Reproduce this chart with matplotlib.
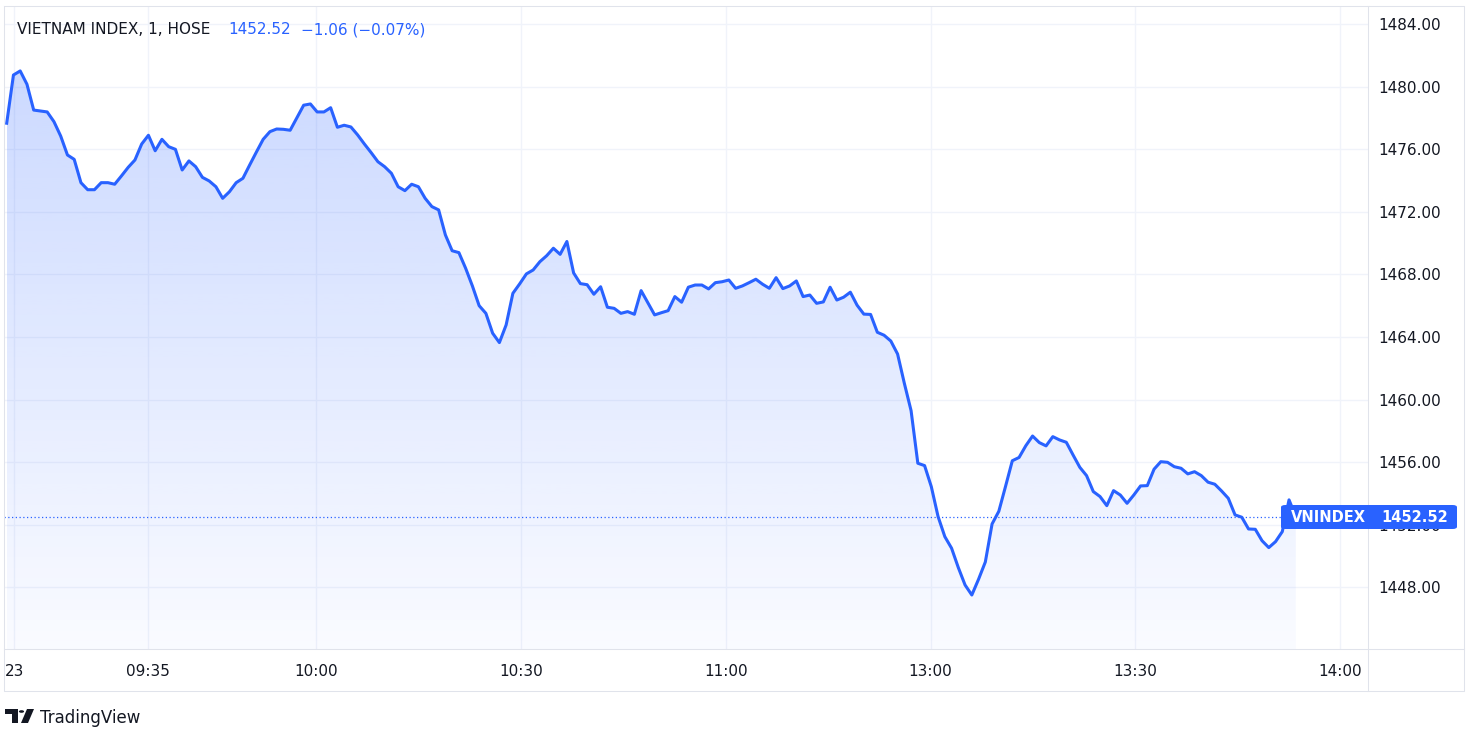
import numpy as np
import matplotlib
matplotlib.use("Agg")
import matplotlib.pyplot as plt
from matplotlib.patches import Rectangle, FancyBboxPatch, Polygon, Circle
from matplotlib.lines import Line2D

# ---------------- data ----------------
title_main = "VIETNAM INDEX, 1, HOSE"
last_price = 1452.52
change_text = "\u22121.06 (\u22120.07%)"
symbol = "VNINDEX"

# 1-minute closes (bar order)
values = [
    1477.66, 1480.74, 1481.00, 1480.15, 1478.50, 1478.44, 1478.38, 1477.76, 1476.84, 1475.63,
    1475.35, 1473.86, 1473.41, 1473.41, 1473.86, 1473.86, 1473.76, 1474.29, 1474.84, 1475.31,
    1476.33, 1476.89, 1475.90, 1476.63, 1476.16, 1475.99, 1474.67, 1475.25, 1474.88, 1474.20,
    1473.97, 1473.60, 1472.86, 1473.28, 1473.86, 1474.14, 1474.99, 1475.82, 1476.63, 1477.12,
    1477.29, 1477.27, 1477.21, 1478.01, 1478.81, 1478.89, 1478.38, 1478.38, 1478.65, 1477.40,
    1477.53, 1477.42, 1476.91, 1476.33, 1475.78, 1475.20, 1474.88, 1474.46, 1473.60, 1473.35,
    1473.76, 1473.60, 1472.86, 1472.33, 1472.12, 1470.52, 1469.51, 1469.39, 1468.39, 1467.26,
    1466.00, 1465.51, 1464.24, 1463.64, 1464.77, 1466.79, 1467.39, 1468.03, 1468.28, 1468.81,
    1469.19, 1469.67, 1469.28, 1470.10, 1468.09, 1467.41, 1467.34, 1466.73, 1467.21, 1465.90,
    1465.83, 1465.51, 1465.62, 1465.45, 1466.96, 1466.19, 1465.41, 1465.55, 1465.68, 1466.58,
    1466.22, 1467.18, 1467.32, 1467.32, 1467.07, 1467.47, 1467.53, 1467.64, 1467.11, 1467.26,
    1467.47, 1467.69, 1467.37, 1467.11, 1467.79, 1467.09, 1467.26, 1467.58, 1466.58, 1466.68,
    1466.15, 1466.24, 1467.18, 1466.36, 1466.54, 1466.86, 1466.03, 1465.46, 1465.44, 1464.30,
    1464.11, 1463.74, 1462.91, 1461.04, 1459.29, 1455.93, 1455.78, 1454.43, 1452.52, 1451.24,
    1450.50, 1449.26, 1448.15, 1447.51, 1448.52, 1449.62, 1452.05, 1452.86, 1454.46, 1456.09,
    1456.30, 1457.05, 1457.67, 1457.25, 1457.04, 1457.63, 1457.42, 1457.27, 1456.46, 1455.67,
    1455.14, 1454.12, 1453.80, 1453.22, 1454.18, 1453.90, 1453.37, 1453.90, 1454.48, 1454.50,
    1455.55, 1456.03, 1455.99, 1455.71, 1455.61, 1455.25, 1455.39, 1455.14, 1454.72, 1454.59,
    1454.16, 1453.69, 1452.63, 1452.48, 1451.73, 1451.71, 1450.98, 1450.54, 1450.92, 1451.56,
    1453.59, 1452.52,
]

time_labels = ["23", "09:35", "10:00", "10:30", "11:00", "13:00", "13:30", "14:00"]
time_label_bars = [1.1, 20.9, 45.8, 76.2, 106.6, 136.9, 167.2, 197.5]

price_ticks = [1448, 1452, 1456, 1460, 1464, 1468, 1472, 1476, 1480, 1484]

# ---------------- style ----------------
W, H = 1479, 742
BLUE = "#2962ff"
TEXT = "#131722"
GRID = "#f0f3fa"
BORDER = "#e0e3eb"

plt.rcParams["font.family"] = ["DejaVu Sans"]

fig = plt.figure(figsize=(W / 100, H / 100), dpi=100)
fig.patch.set_facecolor("white")


def fx(x):
    return x / W


def fy(y):
    return 1 - y / H


# plot pane
pane_l, pane_r, pane_t, pane_b = 4, 1368, 6, 649
ax = fig.add_axes([fx(pane_l), fy(pane_b), fx(pane_r - pane_l), (pane_b - pane_t) / H])
ax.set_facecolor("white")

bars = np.arange(len(values))
vals = np.array(values)

ymin, ymax = 1444.06, 1485.15
xmin, xmax = -0.4, 201.7

# gradient fill under the line
poly = ax.fill_between(bars, vals, ymin, color="none", lw=0)
path = poly.get_paths()[0]
n = 256
alpha = np.linspace(0.025, 0.24, n)[:, None]
rgba = np.zeros((n, 1, 4))
rgba[..., 0] = 41 / 255
rgba[..., 1] = 98 / 255
rgba[..., 2] = 1.0
rgba[..., 3] = alpha
im = ax.imshow(rgba, extent=[bars[0], bars[-1], ymin, vals.max()], aspect="auto",
               origin="lower", zorder=1, interpolation="bilinear")
im.set_clip_path(path, transform=ax.transData)

ax.plot(bars, vals, color=BLUE, lw=2.2, solid_joinstyle="round", zorder=3)

# last price dotted line
ax.axhline(last_price, color=BLUE, lw=0.9, ls=(0, (1, 2)), zorder=2)

ax.set_xlim(xmin, xmax)
ax.set_ylim(ymin, ymax)

ax.set_xticks(time_label_bars)
ax.set_xticklabels(time_labels)
ax.set_yticks(price_ticks)
ax.set_yticklabels([f"{p:.2f}" for p in price_ticks])
ax.yaxis.tick_right()
ax.tick_params(axis="y", length=0, pad=7.5, labelsize=11, labelcolor=TEXT)
ax.tick_params(axis="x", length=0, pad=11, labelsize=11, labelcolor=TEXT)
ax.grid(True, color=GRID, lw=1.0, zorder=0)
ax.set_axisbelow(True)
for s in ax.spines.values():
    s.set_visible(False)

# frame lines
lw_px = 0.75
fig.add_artist(Line2D([fx(4), fx(1464), fx(1464), fx(4), fx(4)],
                      [fy(6), fy(6), fy(691), fy(691), fy(6)],
                      transform=fig.transFigure, color=BORDER, lw=lw_px, zorder=4))
fig.add_artist(Line2D([fx(1368), fx(1368)], [fy(6), fy(691)],
                      transform=fig.transFigure, color=BORDER, lw=lw_px, zorder=4))
fig.add_artist(Line2D([fx(4), fx(1464)], [fy(649), fy(649)],
                      transform=fig.transFigure, color=BORDER, lw=lw_px, zorder=4))

# title
fig.text(fx(17), fy(30), title_main, fontsize=11, color=TEXT, va="center", ha="left")
fig.text(fx(228), fy(30), f"{last_price:.2f}", fontsize=11, color=BLUE, va="center", ha="left")
fig.text(fx(301), fy(30), change_text, fontsize=11, color=BLUE, va="center", ha="left")

# price label box
box = FancyBboxPatch((fx(1281), fy(529)), fx(1457 - 1281), (529 - 505) / H,
                     boxstyle="round,pad=0,rounding_size=0.003",
                     transform=fig.transFigure, facecolor=BLUE, edgecolor="none", zorder=6)
fig.add_artist(box)
fig.text(fx(1291), fy(517), symbol, fontsize=10.5, color="white", fontweight="bold",
         va="center", ha="left", zorder=7)
fig.text(fx(1448), fy(517), f"{last_price:.2f}", fontsize=10.5, color="white",
         fontweight="bold", va="center", ha="right", zorder=7)

# TradingView logo
def P(pts):
    return [(fx(x), fy(y)) for x, y in pts]

fig.add_artist(Polygon(P([(5, 709), (18, 709), (18, 723), (12, 723), (12, 714), (5, 714)]),
                       closed=True, transform=fig.transFigure, facecolor=TEXT,
                       edgecolor="none", zorder=5))
fig.add_artist(Circle((fx(21.5), fy(711.5)), 2.6 / W, transform=fig.transFigure,
                      facecolor=TEXT, edgecolor="none", zorder=5))
fig.add_artist(Polygon(P([(27, 709), (34, 709), (28, 723), (21, 723)]),
                       closed=True, transform=fig.transFigure, facecolor=TEXT,
                       edgecolor="none", zorder=5))
fig.text(fx(40), fy(718), "TradingView", fontsize=12, color=TEXT, va="center", ha="left")

fig.savefig("out.png", dpi=100, facecolor="white")
